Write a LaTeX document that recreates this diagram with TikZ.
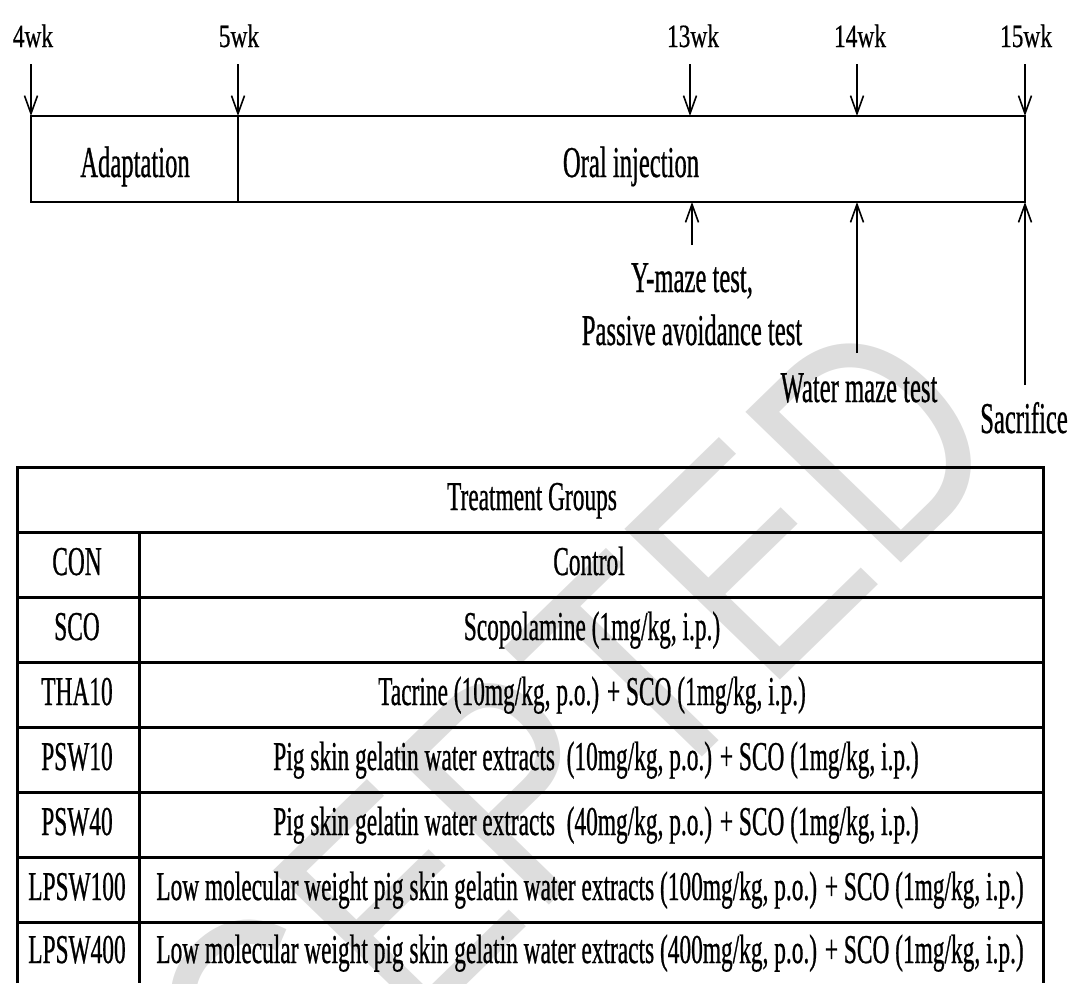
\documentclass[tikz,border=0pt]{standalone}
\usepackage{fontspec}
\setmainfont{Liberation Serif}
\newfontfamily\tlfont{Liberation Serif}[FakeStretch=0.56,FakeBold=0.6]
\newfontfamily\wkfont{Liberation Serif}[FakeStretch=0.72,FakeBold=0.5]
\newfontfamily\tbfont{Liberation Serif}[FakeStretch=0.57,FakeBold=0.6]
\newfontfamily\wmfont{Liberation Sans}
\usetikzlibrary{arrows.meta}
\definecolor{wmgray}{RGB}{221,221,221}
\tikzset{
  box/.style={line width=2.5pt},
  tbl/.style={line width=3pt},
  arr/.style={line width=1.6pt, -{Straight Barb[length=18pt,width=13pt]}},
  tltext/.style={inner sep=0pt, anchor=base, align=center, font=\tlfont\fontsize{44}{53}\selectfont},
  wktext/.style={inner sep=0pt, anchor=base, font=\wkfont\fontsize{32.5}{39}\selectfont},
  tbtext/.style={inner sep=0pt, anchor=base, font=\tbfont\fontsize{41}{49}\selectfont},
  wm/.style={inner sep=0pt, anchor=base west, text=wmgray, font=\wmfont\fontsize{10}{12}\selectfont, cm={18.1,17.6,-22.6,21.9,(0,0)}},
}
\begin{document}
\begin{tikzpicture}[x=1pt,y=-1pt]
\useasboundingbox (0,0) rectangle (1073,983);
% watermark
\begin{scope}
  \clip (0,0) rectangle (1073,983);
  \begin{scope}[shift={(28,1412)}]
    \node[wm] (wmark) at (0,0) {ACCEPTED};
  \end{scope}
\end{scope}
% timeline
\coordinate (tl) at (31,116);
\coordinate (tr) at (1025,116);
\coordinate (bl) at (31,202);
\coordinate (br) at (1025,202);
\draw[box] (tl) rectangle (br);
\coordinate (d5t) at (238,116);
\coordinate (d5b) at (238,202);
\draw[box] (d5t) -- (d5b);
\node[tltext] (adapt) at (135,177) {Adaptation};
\node[tltext] (oral) at (631,177) {Oral injection};
% week labels and arrows
\node[wktext] (w4) at (33,47) {4wk};
\node[wktext] (w5) at (239,47) {5wk};
\node[wktext] (w13) at (693,47) {13wk};
\node[wktext] (w14) at (860,47) {14wk};
\node[wktext] (w15) at (1026,47) {15wk};
\coordinate (s4) at (31,64);   \coordinate (e4) at (31,116);
\coordinate (s5) at (238,64);  \coordinate (e5) at (238,116);
\coordinate (s13) at (690,64); \coordinate (e13) at (690,116);
\coordinate (s14) at (857,64); \coordinate (e14) at (857,116);
\coordinate (s15) at (1025,64); \coordinate (e15) at (1025,116);
\foreach \k in {4,5,13,14,15} \draw[arr] (s\k) -- (e\k);
% test arrows
\coordinate (u13) at (692,245); \coordinate (v13) at (692,202);
\coordinate (u14) at (857,353); \coordinate (v14) at (857,202);
\coordinate (u15) at (1025,385); \coordinate (v15) at (1025,202);
\foreach \k in {13,14,15} \draw[arr] (u\k) -- (v\k);
\node[tltext] (ymaze) at (692,345) {Y-maze test,\\Passive avoidance test};
\node[tltext] (water) at (859,402) {Water maze test};
\node[tltext] (sacr) at (1024,433) {Sacrifice};
% table
\draw[tbl] (17,983) -- (17,467) -- (1043,467) -- (1043,983);
\foreach \y in {532,597,662,727,792,857,922} \draw[tbl] (17,\y) -- (1043,\y);
\draw[tbl] (139,532) -- (139,983);
\node[tbtext] (head) at (532,510) {Treatment Groups};
\node[tbtext] (g1) at (77,575) {CON};
\node[tbtext] (t1) at (589,575) {Control};
\node[tbtext] (g2) at (77,640) {SCO};
\node[tbtext] (t2) at (592,640) {Scopolamine (1mg/kg, i.p.)};
\node[tbtext] (g3) at (77,705) {THA10};
\node[tbtext] (t3) at (592,705) {Tacrine (10mg/kg, p.o.) + SCO (1mg/kg, i.p.)};
\node[tbtext] (g4) at (77,770) {PSW10};
\node[tbtext] (t4) at (596,770) {Pig skin gelatin water extracts\ \ (10mg/kg, p.o.) + SCO (1mg/kg, i.p.)};
\node[tbtext] (g5) at (77,835) {PSW40};
\node[tbtext] (t5) at (596,835) {Pig skin gelatin water extracts\ \ (40mg/kg, p.o.) + SCO (1mg/kg, i.p.)};
\node[tbtext] (g6) at (77,900) {LPSW100};
\node[tbtext] (t6) at (590,900) {Low molecular weight pig skin gelatin water extracts (100mg/kg, p.o.) + SCO (1mg/kg, i.p.)};
\node[tbtext] (g7) at (77,963) {LPSW400};
\node[tbtext] (t7) at (590,963) {Low molecular weight pig skin gelatin water extracts (400mg/kg, p.o.) + SCO (1mg/kg, i.p.)};
\end{tikzpicture}
\end{document}
